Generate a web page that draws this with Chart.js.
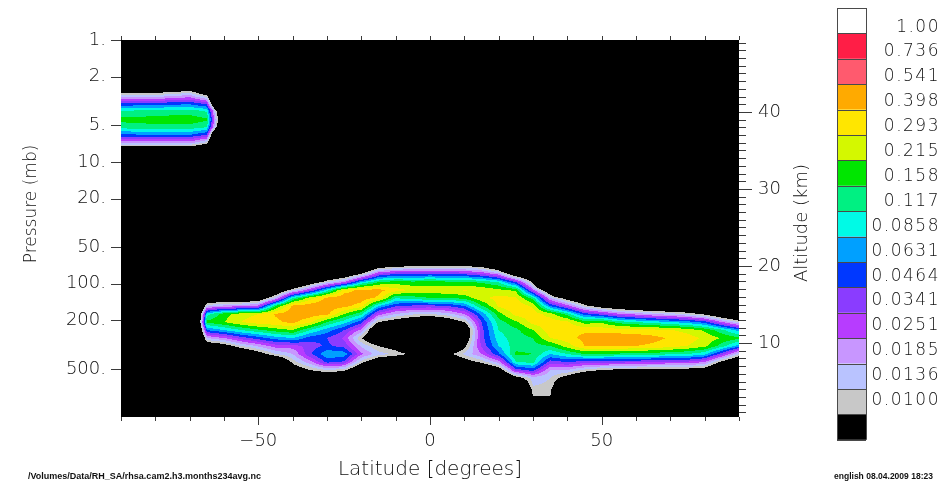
<!DOCTYPE html>
<html>
<head>
<meta charset="utf-8">
<script src="https://cdn.jsdelivr.net/npm/chart.js@4.4.0/dist/chart.umd.min.js"></script>
<style>
  html, body { margin: 0; padding: 0; background: #ffffff; }
  #wrap { position: relative; width: 941px; height: 485px; }
</style>
</head>
<body>
<div id="wrap"><canvas id="rh"></canvas></div>
<script>
// Zonal-mean field on latitude x pressure grid (rows follow pressureLevels, columns follow latitudes)
const latitudes = [-90,-85,-80,-75,-70,-65,-60,-55,-50,-45,-40,-35,-30,-25,-20,-15,-10,-5,0,5,10,15,20,25,30,35,40,45,50,55,60,65,70,75,80,85,90];

const pressureLevels = [1, 2.2, 2.5, 2.8, 3.3, 3.8, 4.5, 5.2, 6, 7, 8, 9, 60, 70, 83, 97, 113, 131, 152, 177, 206, 240, 279, 324, 377, 439, 510, 593, 690, 803, 934, 1100, 1240];

const rhsa = [
  /* 1    */ [0,0,0,0,0, 0,0,0,0,0, 0,0,0,0,0, 0,0,0,0,0, 0,0,0,0,0, 0,0,0,0,0, 0,0,0,0,0, 0,0],
  /* 2.2  */ [0,0,0,0,0, 0,0,0,0,0, 0,0,0,0,0, 0,0,0,0,0, 0,0,0,0,0, 0,0,0,0,0, 0,0,0,0,0, 0,0],
  /* 2.5  */ [.0046,.0046,.0051,.0058,.0069, .0034,0,0,0,0, 0,0,0,0,0, 0,0,0,0,0, 0,0,0,0,0, 0,0,0,0,0, 0,0,0,0,0, 0,0],
  /* 2.8  */ [.012,.012,.0128,.0145,.0174, .0086,0,0,0,0, 0,0,0,0,0, 0,0,0,0,0, 0,0,0,0,0, 0,0,0,0,0, 0,0,0,0,0, 0,0],
  /* 3.3  */ [.0464,.0479,.0494,.0525,.0558, .0398,0,0,0,0, 0,0,0,0,0, 0,0,0,0,0, 0,0,0,0,0, 0,0,0,0,0, 0,0,0,0,0, 0,0],
  /* 3.8  */ [.117,.120,.124,.128,.132, .110,.0016,0,0,0, 0,0,0,0,0, 0,0,0,0,0, 0,0,0,0,0, 0,0,0,0,0, 0,0,0,0,0, 0,0],
  /* 4.5  */ [.174,.179,.185,.191,.191, .168,.0022,0,0,0, 0,0,0,0,0, 0,0,0,0,0, 0,0,0,0,0, 0,0,0,0,0, 0,0,0,0,0, 0,0],
  /* 5.2  */ [.132,.136,.140,.140,.140, .117,.0016,0,0,0, 0,0,0,0,0, 0,0,0,0,0, 0,0,0,0,0, 0,0,0,0,0, 0,0,0,0,0, 0,0],
  /* 6    */ [.0593,.0612,.0631,.0631,.0631, .0464,0,0,0,0, 0,0,0,0,0, 0,0,0,0,0, 0,0,0,0,0, 0,0,0,0,0, 0,0,0,0,0, 0,0],
  /* 7    */ [.0197,.0197,.0197,.0203,.0203, .0117,0,0,0,0, 0,0,0,0,0, 0,0,0,0,0, 0,0,0,0,0, 0,0,0,0,0, 0,0,0,0,0, 0,0],
  /* 8    */ [.0046,.0046,.0046,.0046,.0046, .0029,0,0,0,0, 0,0,0,0,0, 0,0,0,0,0, 0,0,0,0,0, 0,0,0,0,0, 0,0,0,0,0, 0,0],
  /* 9    */ [0,0,0,0,0, 0,0,0,0,0, 0,0,0,0,0, 0,0,0,0,0, 0,0,0,0,0, 0,0,0,0,0, 0,0,0,0,0, 0,0],
  /* 60   */ [0,0,0,0,0, 0,0,0,0,0, 0,0,0,0,0, 0,0,0,0,0, 0,0,0,0,0, 0,0,0,0,0, 0,0,0,0,0, 0,0],
  /* 70   */ [0,0,0,0,0, 0,0,0,0,0, 0,0,0,0,.0016, .0054,.0065,.0078,.0078,.0078, .0078,.0069,.0034,0,0, 0,0,0,0,0, 0,0,0,0,0, 0,0],
  /* 83   */ [0,0,0,0,0, 0,0,0,0,0, 0,0,.0028,.0045,.010, .0341,.0464,.0464,.0494,.0464, .0437,.0341,.0215,.0054,.0029, 0,0,0,0,0, 0,0,0,0,0, 0,0],
  /* 97   */ [0,0,0,0,0, 0,0,0,0,0, .0022,.0061,.0136,.0251,.0858, .158,.185,.174,.179,.174, .168,.149,.117,.0464,.0088, 0,0,0,0,0, 0,0,0,0,0, 0,0],
  /* 113  */ [0,0,0,0,0, 0,0,0,.0016,.0042, .0136,.0341,.100,.341,.436, .449,.341,.275,.259,.275, .302,.275,.236,.203,.0293, .0046,0,0,0,0, 0,0,0,0,0, 0,0],
  /* 131  */ [0,0,0,0,0, .0046,.0046,.0044,.0054,.0169, .117,.251,.436,.493,.479, .374,.120,.136,.158,.158, .174,.275,.321,.311,.136, .0185,.0074,.0040,0,0, 0,0,0,0,0, 0,0],
  /* 152  */ [0,0,0,0,0, .0158,.0203,.0222,.0275,.158, .423,.479,.493,.449,.341, .0858,.0479,.0437,.0423,.0464, .0631,.154,.311,.374,.275, .0631,.0293,.0117,.0069,.0051, .0042,.0036,.0031,.0028,.0022, 0,0],
  /* 177  */ [0,0,0,0,0, .100,.185,.259,.293,.410, .479,.479,.436,.215,.128, .0293,.0185,.0145,.0136,.0163, .0251,.0692,.191,.331,.352, .251,.136,.0541,.0398,.0267, .0222,.0179,.0158,.0128,.0088, .0046,.0025],
  /* 206  */ [0,0,0,0,0, .174,.215,.293,.352,.374, .436,.321,.158,.100,.0525, .010,.0071,.0054,.0040,.0061, .010,.0464,.136,.203,.331, .352,.311,.185,.203,.136, .117,.100,.0858,.0736,.0541, .0251,.0132],
  /* 240  */ [0,0,0,0,0, .0631,.0858,.117,.149,.185, .215,.117,.0736,.0464,.0229, .0034,.0029,.0022,.0016,.0024, .0046,.0410,.117,.145,.215, .352,.386,.374,.352,.341, .331,.321,.302,.259,.203, .128,.0736],
  /* 279  */ [0,0,0,0,0, .0185,.0251,.0398,.0541,.0736, .0858,.0541,.0464,.0321,.0103, .0040,.0029,.0016,0,.0016, .0054,.0398,.103,.136,.158, .293,.352,.436,.493,.493, .479,.436,.386,.341,.275, .209,.174],
  /* 324  */ [0,0,0,0,0, .0054,.0074,.0136,.0197,.0293, .0293,.0398,.0494,.0410,.0174, .010,.0074,.0029,0,.0029, .0086,.0363,.0858,.140,.140, .158,.251,.398,.423,.410, .398,.374,.341,.293,.236, .136,.0736],
  /* 377  */ [0,0,0,0,0, 0,.0022,.0040,.0074,.0136, .0185,.0437,.0806,.0758,.0267, .0158,.0128,.0091,0,.0086, .0145,.0251,.0593,.168,.158, .0858,.117,.158,.158,.149, .145,.136,.124,.117,.094, .0398,.0136],
  /* 439  */ [0,0,0,0,0, 0,0,0,.0020,.0035, .0113,.0221,.0510,.0437,.0117, .0054,.0040,.0022,0,.0040, .0074,.011,.0215,.117,.128, .0398,.0464,.0398,.0398,.0375, .0363,.0341,.0321,.0321,.0251, .0086,.0040],
  /* 510  */ [0,0,0,0,0, 0,0,0,0,0, .0063,.0100,.0136,.0117,.0040, .0016,0,0,0,0, .0022,.0040,.0063,.0398,.0541, .0185,.0185,.0128,.010,.0088, .0088,.0078,.0078,.0078,.0067, .0029,.0016],
  /* 593  */ [0,0,0,0,0, 0,0,0,0,0, .0029,.0046,.0040,.0040,0, 0,0,0,0,0, 0,0,.0022,.0074,.0158, .0136,.0074,.0040,.0029,.0029, .0029,.0025,.0025,.0025,.0022, 0,0],
  /* 690  */ [0,0,0,0,0, 0,0,0,0,0, 0,0,0,0,0, 0,0,0,0,0, 0,0,0,.0022,.0136, .0128,.0029,0,0,0, 0,0,0,0,0, 0,0],
  /* 803  */ [0,0,0,0,0, 0,0,0,0,0, 0,0,0,0,0, 0,0,0,0,0, 0,0,0,0,.012, .012,0,0,0,0, 0,0,0,0,0, 0,0],
  /* 934  */ [0,0,0,0,0, 0,0,0,0,0, 0,0,0,0,0, 0,0,0,0,0, 0,0,0,0,.0054, .0054,0,0,0,0, 0,0,0,0,0, 0,0],
  /* 1100 */ [0,0,0,0,0, 0,0,0,0,0, 0,0,0,0,0, 0,0,0,0,0, 0,0,0,0,0, 0,0,0,0,0, 0,0,0,0,0, 0,0],
  /* 1240 */ [0,0,0,0,0, 0,0,0,0,0, 0,0,0,0,0, 0,0,0,0,0, 0,0,0,0,0, 0,0,0,0,0, 0,0,0,0,0, 0,0]
];

// Shading levels (lower bounds of each band) and band colours from lowest to highest
const contourLevels = [0.0100, 0.0136, 0.0185, 0.0251, 0.0341, 0.0464, 0.0631, 0.0858, 0.117, 0.158, 0.215, 0.293, 0.398, 0.541, 0.736, 1.00];
const contourColors = ['#000000','#c8c8c8','#b9c3ff','#c896ff','#b73cff','#8a3cff','#0038ff','#00a0ff','#00fae6','#00f082','#00e600','#d4f800','#ffe600','#ffaa00','#ff5a6e','#ff1e46','#ffffff'];

// Axis ticks
const pressureTicks = [1, 2, 5, 10, 20, 50, 100, 200, 500];
const latitudeLabels = [-50, 0, 50];
const latitudeMarks = [-90,-80,-70,-60,-50,-40,-30,-20,-10,0,10,20,30,40,50,60,70,80,90];
const altitudeLabels = [10, 20, 30, 40];
const altitudeMarks = [1,2,3,4,5,6,7,8,9,10,11,12,13,14,15,16,17,18,19,20,21,22,23,24,25,26,27,28,29,30,31,32,33,34,35,36,37,38,39,40,41,42,43,44,45,46,47,48,49];

const sourceFile = '/Volumes/Data/RH_SA/rhsa.cam2.h3.months234avg.nc';
const stampText = 'english 08.04.2009 18:23';

const FONT = '"DejaVu Sans", "Liberation Sans", sans-serif';
const TEXT = '#111111';

function locate(arr, v) {
  const n = arr.length - 1;
  if (v <= arr[0]) return [0, 0];
  if (v >= arr[n]) return [n - 1, 1];
  let i = 0;
  while (arr[i + 1] < v) i++;
  return [i, (v - arr[i]) / (arr[i + 1] - arr[i])];
}

const palette = contourColors.map(h => [parseInt(h.slice(1, 3), 16), parseInt(h.slice(3, 5), 16), parseInt(h.slice(5, 7), 16)]);

// Filled contours: bilinear in latitude / log-pressure on log10 of the field, banded by contourLevels
const contourFill = {
  id: 'contourFill',
  beforeDatasetsDraw(chart) {
    const { ctx, chartArea: a, scales } = chart;
    const xs = scales.x, ys = scales.y;
    const w = Math.round(a.right - a.left), h = Math.round(a.bottom - a.top);
    const off = document.createElement('canvas');
    off.width = w; off.height = h;
    const octx = off.getContext('2d');
    const img = octx.createImageData(w, h);
    const logP = pressureLevels.map(Math.log10);
    const F = rhsa.map(row => latitudes.map((_, i) => Math.log10(Math.max(row[i] || 0, 1e-4))));
    const thr = contourLevels.map(Math.log10);
    const cols = [], rows = [];
    for (let i = 0; i < w; i++) cols.push(locate(latitudes, xs.getValueForPixel(a.left + i + 0.5)));
    for (let j = 0; j < h; j++) rows.push(locate(logP, Math.log10(ys.getValueForPixel(a.top + j + 0.5))));
    let k = 0;
    for (let j = 0; j < h; j++) {
      const [r, ty] = rows[j];
      const A = F[r], B = F[r + 1];
      for (let i = 0; i < w; i++) {
        const [c, tx] = cols[i];
        const t = A[c] + (A[c + 1] - A[c]) * tx;
        const b = B[c] + (B[c + 1] - B[c]) * tx;
        const l = t + (b - t) * ty;
        let band = 0;
        while (band < thr.length && l >= thr[band] - 1e-9) band++;
        const col = palette[band];
        img.data[k++] = col[0]; img.data[k++] = col[1]; img.data[k++] = col[2]; img.data[k++] = 255;
      }
    }
    octx.putImageData(img, 0, 0);
    ctx.drawImage(off, a.left, a.top);
  }
};

// Tick marks, side titles, colour bar and footer lines
const decor = {
  id: 'decor',
  afterDraw(chart) {
    const { ctx, chartArea: a, scales: { x, y, y2 } } = chart;
    ctx.save();
    ctx.strokeStyle = '#3a3a3a';
    ctx.lineWidth = 1;
    ctx.beginPath();
    pressureTicks.forEach(v => {
      const py = Math.round(y.getPixelForValue(v)) + 0.5;
      ctx.moveTo(a.left - 10, py); ctx.lineTo(a.left, py);
    });
    latitudeMarks.forEach(v => {
      const px = Math.round(x.getPixelForValue(v)) + 0.5;
      const len = latitudeLabels.includes(v) ? 8 : 4;
      ctx.moveTo(px, a.bottom); ctx.lineTo(px, a.bottom + len);
      ctx.moveTo(px, a.top); ctx.lineTo(px, a.top - 4);
    });
    altitudeMarks.forEach(v => {
      const py = Math.round(y2.getPixelForValue(v)) + 0.5;
      const len = altitudeLabels.includes(v) ? 13 : 7;
      ctx.moveTo(a.right, py); ctx.lineTo(a.right + len, py);
    });
    ctx.stroke();

    // rotated side titles
    ctx.fillStyle = TEXT;
    ctx.textAlign = 'center';
    ctx.textBaseline = 'middle';
    ctx.font = '200 17px ' + FONT;
    ctx.save(); ctx.translate(32, 204); ctx.rotate(-Math.PI / 2); ctx.fillText('Pressure (mb)', 0, 0); ctx.restore();
    ctx.font = '200 18px ' + FONT;
    ctx.save(); ctx.translate(802, 223); ctx.rotate(-Math.PI / 2); ctx.fillText('Altitude (km)', 0, 0); ctx.restore();

    // colour bar
    const cbX = 837, cbW = 29, cbTop = 8, cbH = 25.4;
    const n = contourColors.length;
    for (let i = 0; i < n; i++) {
      const yy = cbTop + i * cbH;
      ctx.fillStyle = contourColors[n - 1 - i];
      ctx.fillRect(cbX, yy, cbW, cbH);
    }
    ctx.strokeStyle = '#4a4a4a';
    ctx.beginPath();
    for (let i = 0; i <= n; i++) {
      const yy = Math.round(cbTop + i * cbH) + 0.5;
      ctx.moveTo(cbX, yy); ctx.lineTo(cbX + cbW, yy);
    }
    ctx.moveTo(cbX + 0.5, cbTop); ctx.lineTo(cbX + 0.5, cbTop + n * cbH);
    ctx.moveTo(cbX + cbW + 0.5, cbTop); ctx.lineTo(cbX + cbW + 0.5, cbTop + n * cbH);
    ctx.stroke();

    ctx.fillStyle = TEXT;
    ctx.font = '200 17px ' + FONT;
    ctx.textAlign = 'right';
    ctx.textBaseline = 'alphabetic';
    ctx.letterSpacing = '1.5px';
    const lblBottom = 405, lblStep = 24.9;
    contourLevels.forEach((lv, j) => {
      ctx.fillText(lv.toPrecision(3), 940, lblBottom - j * lblStep);
    });
    ctx.letterSpacing = '0px';

    // footer lines
    ctx.textAlign = 'left';
    ctx.textBaseline = 'middle';
    ctx.font = 'bold 9px "Liberation Sans Narrow", "Liberation Sans", sans-serif';
    ctx.fillText(sourceFile, 28, 477, 242);
    ctx.fillText(stampText, 834, 477, 99);
    ctx.restore();
  }
};

Chart.defaults.font.family = FONT;
Chart.defaults.color = TEXT;

new Chart(document.getElementById('rh'), {
  type: 'scatter',
  data: { datasets: [] },
  options: {
    responsive: true,
    maintainAspectRatio: false,
    animation: false,
    devicePixelRatio: 1,
    events: [],
    layout: { padding: { top: 40, right: 111, bottom: 0, left: 0 } },
    plugins: { legend: { display: false }, tooltip: { enabled: false } },
    scales: {
      x: {
        type: 'linear', position: 'bottom', min: -90, max: 90, bounds: 'data',
        grid: { display: false, drawTicks: false }, border: { display: false },
        afterBuildTicks: s => { s.ticks = latitudeLabels.map(v => ({ value: v })); },
        ticks: { padding: 14, autoSkip: false, maxRotation: 0, font: { size: 18, weight: '200' },
                 callback: v => (v < 0 ? '\u2212' + Math.abs(v) : String(v)) },
        title: { display: true, text: 'Latitude [degrees]', font: { size: 20, weight: '200' }, padding: { top: 0, bottom: 3 } },
        afterFit: s => { s.height = 68; }
      },
      y: {
        type: 'logarithmic', position: 'left', reverse: true, min: 1, max: 1240, bounds: 'data',
        grid: { display: false, drawTicks: false }, border: { display: false },
        afterBuildTicks: s => { s.ticks = pressureTicks.map(v => ({ value: v })); },
        ticks: { padding: 15, autoSkip: false, font: { size: 18, weight: '200' }, callback: v => v + '.' },
        afterFit: s => { s.width = 121; }
      },
      y2: {
        type: 'linear', position: 'right', min: 0.39, max: 49.35, bounds: 'data',
        grid: { display: false, drawTicks: false }, border: { display: false },
        afterBuildTicks: s => { s.ticks = altitudeLabels.map(v => ({ value: v })); },
        ticks: { padding: 19, autoSkip: false, font: { size: 18, weight: '200' }, callback: v => String(v) },
        afterFit: s => { s.width = 91; }
      }
    }
  },
  plugins: [contourFill, decor]
});
</script>
</body>
</html>
